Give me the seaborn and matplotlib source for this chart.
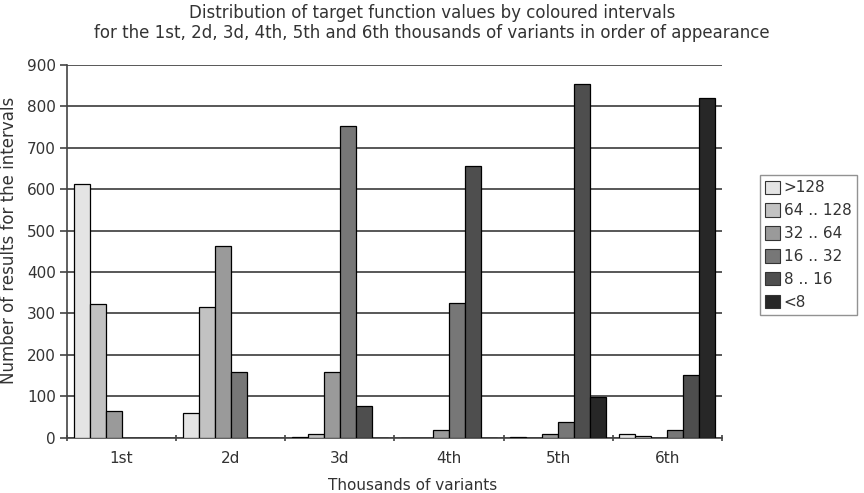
import matplotlib
matplotlib.use("Agg")
import matplotlib.pyplot as plt
import seaborn as sns
import pandas as pd
import numpy as np

thousands = ["1st", "2d", "3d", "4th", "5th", "6th"]
intervals = [">128", "64 .. 128", "32 .. 64", "16 .. 32", "8 .. 16", "<8"]
gt128 = [612, 60, 2, 0, 2, 8]
i64_128 = [322, 315, 8, 0, 0, 3]
i32_64 = [65, 463, 158, 17, 8, 0]
i16_32 = [0, 158, 752, 325, 38, 17]
i8_16 = [0, 0, 77, 657, 853, 152]
lt8 = [0, 0, 0, 0, 99, 820]
colors = ["#e4e4e4", "#c2c2c2", "#9a9a9a", "#777777", "#4e4e4e", "#272727"]

series = [gt128, i64_128, i32_64, i16_32, i8_16, lt8]
rows = []
for name, vals in zip(intervals, series):
    for t, v in zip(thousands, vals):
        rows.append({"thousand": t, "count": v, "interval": name})
df = pd.DataFrame(rows)

sns.set_theme(style="white")
plt.rcParams["font.family"] = ["DejaVu Sans"]
txt = "#333333"
W, H = 864, 493

fig = plt.figure(figsize=(8.64, 4.93), dpi=100)
ax = fig.add_axes([67 / W, 1 - 437.5 / H, 655 / W, 372.5 / H])

sns.barplot(data=df, x="thousand", y="count", hue="interval",
            order=thousands, hue_order=intervals, palette=colors,
            width=0.88, edgecolor="black", linewidth=0.9, ax=ax, zorder=3)

ax.set_ylim(0, 900)
ax.set_xlim(-0.5, 5.5)
ax.set_yticks(np.arange(0, 901, 100))
ax.yaxis.grid(True, color="#4a4a4a", linewidth=1.3, zorder=0)
ax.xaxis.grid(False)
ax.set_axisbelow(True)
for s in ["top", "right"]:
    ax.spines[s].set_visible(False)
for s in ["left", "bottom"]:
    ax.spines[s].set_color("#444444")
    ax.spines[s].set_linewidth(1.2)

ax.set_xticks(range(6))
ax.set_xticklabels(thousands)
ax.set_xticks(np.arange(-0.5, 5.6, 1.0), minor=True)
ax.tick_params(axis="x", which="major", length=0, pad=10, labelsize=11, labelcolor=txt)
ax.tick_params(axis="x", which="minor", length=5, direction="inout", color="#444444", width=1.2, bottom=True)
ax.tick_params(axis="y", which="major", length=5, direction="out", color="#444444", width=1.2,
               left=True, labelsize=11, labelcolor=txt, pad=3)
ax.set_xlabel("")
ax.set_ylabel("")

fig.text(413 / W, 1 - 485 / H, "Thousands of variants", fontsize=11, color=txt,
         ha="center", va="center")
fig.text(9 / W, 1 - 240 / H, "Number of results for the intervals", fontsize=12, color=txt,
         ha="center", va="center", rotation=90)

fig.text(0.5, 1 - 13 / H, "Distribution of target function values by coloured intervals",
         fontsize=12, color=txt, ha="center", va="center")
fig.text(0.5, 1 - 33 / H,
         "for the 1st, 2d, 3d, 4th, 5th and 6th thousands of variants in order of appearance",
         fontsize=12, color=txt, ha="center", va="center")

ax.get_legend().remove()
handles = [plt.Rectangle((0, 0), 1, 1, facecolor=c, edgecolor="#333333", linewidth=0.8) for c in colors]
leg = fig.legend(handles, intervals, loc="upper left", bbox_to_anchor=(760 / W, 1 - 175 / H),
                 frameon=True, fancybox=False, fontsize=11, handlelength=0.95, handleheight=0.95,
                 handletextpad=0.25, labelspacing=0.52, borderpad=0.35, borderaxespad=0)
leg.get_frame().set_edgecolor("#777777")
leg.get_frame().set_linewidth(1.0)
for t in leg.get_texts():
    t.set_color(txt)

fig.savefig("out.png", dpi=100)
